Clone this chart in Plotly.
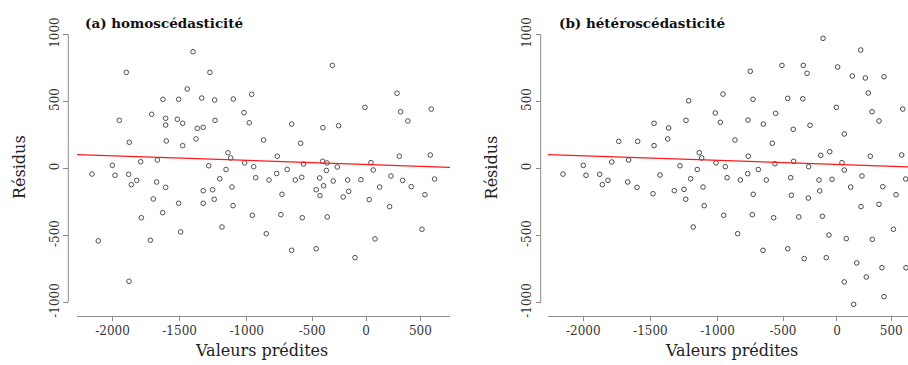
import plotly.graph_objects as go

# ---------------- data ----------------
# x positions are in the chart's horizontal axis units; the tick labels sit at XTICK_VALS
XTICK_VALS = [-2000, -1500, -1000, -512, -110, 294]
XTICK_TEXT = ["-2000", "-1500", "-1000", "-500", "0", "500"]
YTICK_VALS = [-1000, -500, 0, 500, 1000]
YTICK_TEXT = ["-1000", "-500", "0", "500", "1000"]

# (a) homoscédasticité
a_pred = [-1400, -1897, -1274, -1443, -1624, -1507, -1335, -1239, -1708, -1949,
          -1604, -1604, -1517, -1477, -1236, -1368, -1324, -1875, -1599, -1378,
          -1477, -1140, -1790, -1666, -2001, -1283, -1154, -362, -1100, -963,
          120, -1020, -981, -119, 147, 375, 201, -665, -432, -315,
          -874, -598, -1119, -1015, -948, -772, -698, -576, -434, -402,
          -406, -325, -74, -57, 137, 368, -2153, -1981, -1879, -1860,
          -1820, -1671, -1604, -1696, -1507, -1626, -1324, -1254, -1242, -1324,
          -1201, -1785, -2106, -1718, -1492, -1184, -1877, -933, -834, -777,
          -638, -590, -456, -355, -248, -149, 75, 162, 400, -1110,
          -1102, -958, -854, -737, -745, -586, -665, -482, -427, -454,
          -482, -400, -281, -240, -193, -87, -9, -44, 65, 226,
          328, 306]
a_resid = [870, 716, 716, 592, 515, 515, 524, 510, 403, 358,
           373, 323, 366, 336, 358, 298, 306, 194, 204, 219,
           169, 116, 49, 62, 22, 19, -9, 768, 517, 552,
           560, 415, 340, 455, 422, 442, 353, 330, 303, 318,
           211, 187, 77, 40, 12, 90, -9, 32, 52, 40,
           -16, 10, 42, -13, 90, 99, -43, -52, -45, -122,
           -90, -102, -142, -229, -261, -331, -167, -160, -231, -261,
           -78, -369, -542, -537, -475, -438, -843, -70, -87, -39,
           -87, -67, -72, -95, -87, -85, -57, -90, -80, -140,
           -279, -351, -488, -194, -346, -369, -612, -160, -130, -204,
           -600, -363, -214, -172, -667, -234, -140, -527, -286, -137,
           -197, -455]

# (b) hétéroscédasticité
b_pred = [-1473, -1364, -1736, -1595, -1473, -1371, -2000, -1788, -1662, -1280,
          -214, 67, -756, -520, -361, -333, -105, 4, 101, 240,
          -1215, -959, -736, -477, -365, 123, -1235, -1017, -979, -773,
          -659, -567, -436, -311, -115, 151, 203, 380, -56, -870,
          -592, -1136, -1118, -1011, -942, -771, -696, -1151, -572, -433,
          -321, -231, -164, -73, -56, 138, 372, -1200, -929, -830,
          -775, -637, -455, -244, -147, 76, 402, -1250, -1237, -1108,
          -1099, -1181, -954, -850, -734, -741, -582, -661, -450, -477,
          -395, -324, -239, -354, -190, -219, -170, -8, 69, -41,
          37, -56, 14, 108, 153, 231, 330, 203, 310, 225,
          240, 404, -2151, -1980, -1878, -1858, -1816, -1669, -1600, -1481,
          -1429, -1322]
b_resid = [336, 301, 201, 201, 169, 219, 22, 47, 62, 19,
           970, 883, 724, 768, 768, 709, 756, 689, 674, 683,
           504, 554, 515, 522, 519, 562, 358, 413, 343, 360,
           330, 410, 291, 321, 455, 422, 353, 442, 256, 211,
           187, 116, 77, 40, 12, 90, -9, -9, 34, 52,
           12, 97, 124, 42, -13, 90, 99, -78, -70, -87,
           -40, -87, -70, -87, -82, -57, -80, -157, -231, -140,
           -279, -438, -351, -488, -194, -346, -369, -612, -201, -600,
           -363, -222, -169, -674, -667, -358, -498, -140, -286, -525,
           -706, -848, -1015, -811, -530, -137, -197, -269, -455, -742,
           -958, -742, -43, -52, -45, -122, -90, -102, -142, -190,
           -50, -167]

# fitted regression line (same in both panels): intercept, slope
FIT_INTERCEPT = 25.0
FIT_SLOPE = -0.034

TITLES = ["(a) homoscédasticité", "(b) hétéroscédasticité"]
XLABEL = "Valeurs prédites"
YLABEL = "Résidus"

# ---------------- layout geometry ----------------
W, H = 908, 365
FONT = "DejaVu Serif"
AXIS_GREY = "#8c8c8c"

XRANGES = [[-2264.5, 514.9], [-2263.0, 419.0]]
XDOMAINS = [[77 / W, 450 / W], [548 / W, 1.0]]
YRANGE = [-1057.5, 1032.1]
YDOMAIN = [1 - 310 / H, 1 - 30 / H]
YAXIS_POS = [68.3 / W, 540.7 / W]
XAXIS_POS = 1 - 315.7 / H

fig = go.Figure()

panels = [(a_pred, a_resid, "#505050"), (b_pred, b_resid, "#484848")]
for i, (xs, ys, col) in enumerate(panels):
    xa = "x" if i == 0 else "x2"
    ya = "y" if i == 0 else "y2"
    fig.add_trace(go.Scatter(
        x=xs, y=ys, mode="markers", xaxis=xa, yaxis=ya,
        marker=dict(symbol="circle-open", size=4.6, color=col,
                    line=dict(width=1, color=col)),
        showlegend=False, hoverinfo="skip"))
    lx = XRANGES[i]
    fig.add_trace(go.Scatter(
        x=lx, y=[FIT_INTERCEPT + FIT_SLOPE * v for v in lx],
        mode="lines", xaxis=xa, yaxis=ya,
        line=dict(color="#ff1a1a", width=1.3),
        showlegend=False, hoverinfo="skip"))

axis_font = dict(family=FONT, size=12, color="#333333")

for i in range(2):
    sfx = "" if i == 0 else "2"
    fig.update_layout(**{
        "xaxis" + sfx: dict(
            domain=XDOMAINS[i], range=XRANGES[i], anchor="free",
            position=XAXIS_POS, showgrid=False, zeroline=False,
            showline=True, linecolor=AXIS_GREY, linewidth=1,
            ticks="outside", ticklen=4, tickcolor=AXIS_GREY, tickwidth=1,
            tickmode="array", tickvals=XTICK_VALS, ticktext=XTICK_TEXT,
            tickfont=axis_font, fixedrange=True, automargin=False),
        "yaxis" + sfx: dict(
            domain=YDOMAIN, range=YRANGE, anchor="free",
            position=YAXIS_POS[i], showgrid=False, zeroline=False,
            showline=False, ticks="outside", ticklen=5,
            tickcolor=AXIS_GREY, tickwidth=1,
            tickmode="array", tickvals=YTICK_VALS, ticktext=YTICK_TEXT,
            tickangle=-90, tickfont=axis_font, fixedrange=True,
            automargin=False),
    })
    # y axis line between the extreme ticks
    fig.add_shape(type="line", xref="paper", yref="y" + sfx,
                  x0=YAXIS_POS[i], x1=YAXIS_POS[i],
                  y0=YTICK_VALS[0], y1=YTICK_VALS[-1],
                  line=dict(color=AXIS_GREY, width=1))
    # panel title
    fig.add_annotation(text="<b>" + TITLES[i] + "</b>", xref="paper", yref="paper",
                       x=(82.7 if i == 0 else 557.3) / W, y=1 - 22.5 / H,
                       xanchor="left", yanchor="middle", showarrow=False,
                       font=dict(family=FONT, size=13.5, color="#111111"))
    # x label
    fig.add_annotation(text=XLABEL, xref="paper", yref="paper",
                       x=(261 if i == 0 else 731.8) / W, y=1 - 350 / H,
                       xanchor="center", yanchor="middle", showarrow=False,
                       font=dict(family=FONT, size=16, color="#222222"))
    # y label
    fig.add_annotation(text=YLABEL, xref="paper", yref="paper",
                       x=(19 if i == 0 else 491.4) / W, y=1 - 167 / H,
                       xanchor="center", yanchor="middle", textangle=-90,
                       showarrow=False,
                       font=dict(family=FONT, size=16, color="#222222"))

fig.update_layout(width=W, height=H,
                  margin=dict(l=0, r=0, t=0, b=0, pad=0, autoexpand=False),
                  paper_bgcolor="white", plot_bgcolor="white",
                  font=dict(family=FONT), hovermode=False)

fig.write_html("out.html",
               config={"displayModeBar": False, "staticPlot": True},
               post_script="document.body.style.margin='0';"
                           "document.body.style.padding='0';"
                           "document.body.style.overflow='hidden';")
